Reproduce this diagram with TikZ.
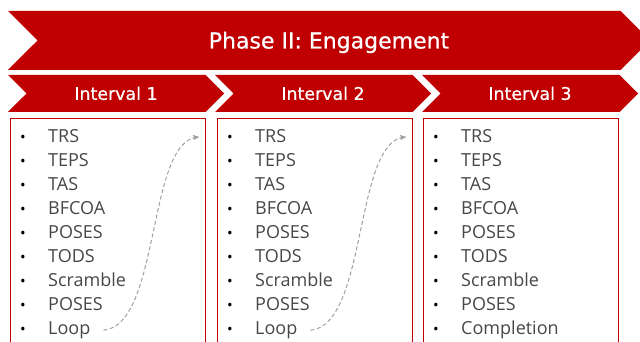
\documentclass[tikz,border=0pt]{standalone}
\usepackage{fontspec}
\setmainfont{Open Sans}
\newfontfamily\headfont{DejaVu Sans}[FakeBold=0.6]
\usetikzlibrary{shapes.symbols,arrows,positioning}

\definecolor{phasered}{HTML}{C00000}
\definecolor{itemgray}{HTML}{474747}
\definecolor{loopgray}{HTML}{A0A0A0}

\tikzset{
	chevron/.style={signal, signal from=west, signal to=east, fill=phasered, text=white, inner sep=0pt, text depth=0pt},
	intbox/.style={draw=phasered, line width=0.9pt, minimum width=195pt, minimum height=240pt, anchor=north west},
	itemtext/.style={anchor=base west, inner sep=0pt, text=itemgray, font=\fontsize{18}{18}\selectfont},
	dot/.style={anchor=base, inner sep=0pt, font=\fontsize{15}{15}\selectfont},
	loopback/.style={->, >=stealth', dash pattern=on 4pt off 2.5pt, loopgray, line width=1pt},
}

\begin{document}
\begin{tikzpicture}[x=1pt,y=-1pt]
	\clip (0,0) rectangle (640,342);
	% phase banner
	\node[chevron, minimum width=642pt, minimum height=59pt, text height=16pt, font=\headfont\fontsize{22}{22}\selectfont] (phase) at (329,40.5) {Phase II: Engagement};
	% intervals
	\foreach \i/\cx in {1/116,2/323,3/530}
		\node[chevron, minimum width=216pt, minimum height=37pt, text height=12.7pt, font=\headfont\fontsize{17.4}{18}\selectfont] (int\i) at (\cx,93.5) {Interval \i};
	% boxes with their steps
	\foreach \b/\bx/\last in {1/10/Loop,2/217/Loop,3/423/Completion} {
		\node[intbox] (box\b) at (\bx,118) {};
		\foreach \i/\step in {1/TRS,2/TEPS,3/TAS,4/BFCOA,5/POSES,6/TODS,7/Scramble,8/POSES,9/\last} {
			\node[dot] (dot\b-\i) at (\bx+13,118.5+24*\i) {\textbullet};
			\node[itemtext] (item\b-\i) at (\bx+38,118.5+24*\i) {\step};
		}
	}
	% loop back into the next interval
	\foreach \b in {1,2} {
		\coordinate (hop\b) at ([xshift=-7pt,yshift=-19pt]box\b.north east);
		\draw[loopback] ([xshift=13pt]item\b-9.east) .. controls +(57,-5) and +(-52,5) .. (hop\b);
	}
\end{tikzpicture}
\end{document}
